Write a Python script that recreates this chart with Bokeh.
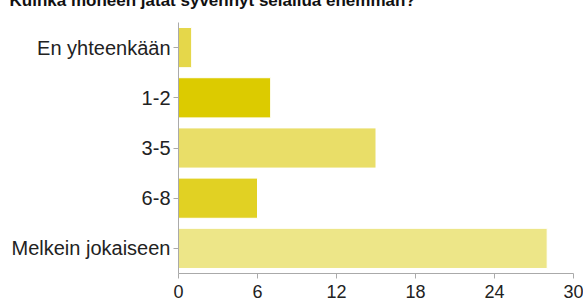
from bokeh.plotting import figure
from bokeh.models import FactorRange, Range1d, ColumnDataSource
from bokeh.embed import file_html
from bokeh.resources import INLINE

title_text = "Kuinka moneen jätät syvennyt selailua enemmän?"
categories = ["En yhteenkään", "1-2", "3-5", "6-8", "Melkein jokaiseen"]
counts = [1, 7, 15, 6, 28]
colors = ["#e5d74a", "#dccb00", "#e9de68", "#e1d123", "#ede688"]
x_ticks = [0, 6, 12, 18, 24, 30]

src = ColumnDataSource(dict(cat=categories, n=counts, color=colors))

p = figure(
    width=575, height=337,
    y_range=FactorRange(factors=list(reversed(categories))),
    x_range=Range1d(0, 30),
    output_backend="svg", toolbar_location=None,
    title=title_text,
    min_border_left=169, min_border_right=10,
    min_border_top=48, min_border_bottom=38,
    styles={"margin-top": "-26px", "margin-bottom": "-50px", "margin-left": "8px"},
)
p.hbar(y="cat", left=0, right="n", height=0.8, fill_color="color",
       line_color="white", line_width=1, source=src)

p.title.text_font = "Liberation Sans"
p.title.text_font_size = "17px"
p.title.text_font_style = "bold"
p.title.text_color = "#111111"
p.title.offset = -169
p.title.standoff = 25

p.xaxis.ticker = x_ticks
for ax in (p.xaxis, p.yaxis):
    ax.major_label_text_font = "Liberation Sans"
    ax.major_label_text_font_size = "20px"
    ax.major_label_text_color = "#222222"
    ax.axis_line_color = "#aaaaaa"
    ax.major_tick_line_color = "#aaaaaa"
    ax.major_tick_in = 0
    ax.major_tick_out = 5
    ax.minor_tick_line_color = None
    ax.major_label_standoff = 3
p.xaxis.major_label_text_font_size = "18px"
p.xaxis.major_label_standoff = 6
p.xgrid.grid_line_color = None
p.ygrid.grid_line_color = None
p.outline_line_color = None

open("out.html", "w").write(file_html(p, INLINE))
